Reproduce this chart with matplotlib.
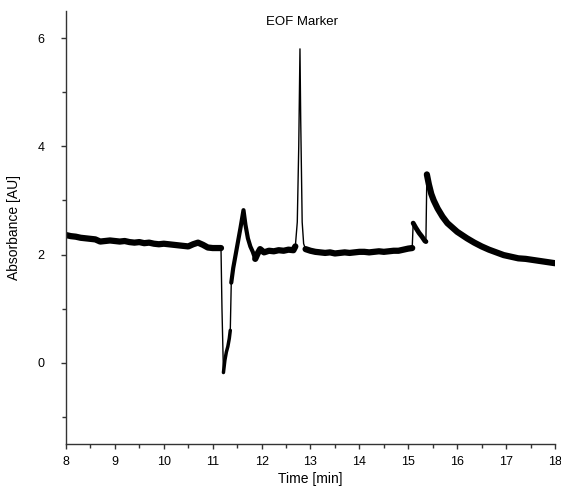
import numpy as np
import matplotlib.pyplot as plt

plt.rcParams['font.family'] = ['Liberation Sans', 'DejaVu Sans']

# trace (time in min, absorbance in AU)
time_min = [
    8.0, 8.1, 8.2, 8.3, 8.4, 8.5, 8.6, 8.7, 8.8, 8.9, 9.0, 9.1, 9.2, 9.3, 9.4,
    9.5, 9.6, 9.7, 9.8, 9.9, 10.0, 10.1, 10.2, 10.3, 10.4, 10.5, 10.6, 10.7,
    10.8, 10.9, 11.0, 11.1, 11.17,
    11.19, 11.22, 11.25, 11.28, 11.31, 11.34, 11.36, 11.38, 11.42, 11.47,
    11.52, 11.57, 11.63, 11.67, 11.72, 11.77, 11.82, 11.87, 11.92, 11.97,
    12.05, 12.15, 12.25, 12.35, 12.45, 12.55, 12.65, 12.69,
    12.73, 12.76, 12.785, 12.80, 12.83, 12.86, 12.90,
    13.0, 13.1, 13.2, 13.3, 13.4, 13.5, 13.6, 13.7, 13.8, 13.9, 14.0, 14.1,
    14.2, 14.3, 14.4, 14.5, 14.6, 14.7, 14.8, 14.9, 15.0, 15.08,
    15.10, 15.15, 15.22, 15.28, 15.34, 15.36,
    15.38, 15.42, 15.47, 15.52, 15.6, 15.7, 15.8, 15.9, 16.0, 16.1, 16.2,
    16.35, 16.5, 16.65, 16.8, 16.95, 17.1, 17.25, 17.4, 17.55, 17.7, 17.85,
    18.0,
]
absorbance = [
    2.36, 2.34, 2.33, 2.31, 2.30, 2.29, 2.28, 2.24, 2.25, 2.26, 2.25, 2.24,
    2.25, 2.23, 2.22, 2.23, 2.21, 2.22, 2.20, 2.19, 2.20, 2.19, 2.18, 2.17,
    2.16, 2.15, 2.19, 2.22, 2.18, 2.13, 2.12, 2.12, 2.12,
    1.00, -0.18, 0.05, 0.20, 0.30, 0.45, 0.60, 1.48, 1.75, 2.00,
    2.25, 2.50, 2.82, 2.55, 2.30, 2.15, 2.05, 1.92, 2.02, 2.10,
    2.04, 2.07, 2.06, 2.08, 2.07, 2.09, 2.08, 2.15,
    2.60, 4.00, 5.80, 4.50, 2.60, 2.20, 2.10,
    2.07, 2.05, 2.04, 2.03, 2.04, 2.02, 2.03, 2.04, 2.03, 2.04, 2.05, 2.05,
    2.04, 2.05, 2.06, 2.05, 2.06, 2.07, 2.07, 2.09, 2.11, 2.12,
    2.58, 2.50, 2.40, 2.33, 2.25, 2.24,
    3.48, 3.30, 3.12, 3.00, 2.85, 2.70, 2.58, 2.50, 2.42, 2.36, 2.30,
    2.22, 2.15, 2.09, 2.04, 1.99, 1.96, 1.93, 1.92, 1.90, 1.88, 1.86,
    1.84,
]

t = np.array(time_min)
a = np.array(absorbance)

fig = plt.figure(figsize=(5.61, 4.88), dpi=100)
ax = fig.add_axes([0.1176, 0.0902, 0.8717, 0.8873])

# thin trace everywhere, thicker where the signal is noisy
ax.plot(t, a, color='black', lw=1.0)


def band(lo, hi, lw):
    m = (t >= lo) & (t <= hi)
    ax.plot(t[m], a[m], color='black', lw=lw, solid_capstyle='round',
            solid_joinstyle='round')


band(8.0, 11.17, 4.5)
band(11.87, 12.69, 4.5)
band(12.90, 15.08, 4.5)
band(15.38, 18.0, 4.5)
band(11.22, 11.36, 2.5)
band(11.38, 11.87, 3)
band(15.10, 15.36, 3.5)

ax.set_xlim(8, 18)
ax.set_ylim(-1.5, 6.5)
ax.set_xticks(range(8, 19))
ax.set_xticks(np.arange(8.5, 18, 1), minor=True)
ax.set_yticks([0, 2, 4, 6])
ax.set_yticks([-1, 1, 3, 5], minor=True)

for s in ['top', 'right']:
    ax.spines[s].set_visible(False)
for s in ['left', 'bottom']:
    ax.spines[s].set_color('#333333')
    ax.spines[s].set_linewidth(1.0)

ax.tick_params(which='both', direction='out', color='#333333', labelsize=9)
ax.tick_params(which='major', length=3.5, width=1.0)
ax.tick_params(which='minor', length=3, width=1.0)
ax.tick_params(axis='y', pad=12)
ax.tick_params(axis='x', pad=5)

ax.set_xlabel('Time [min]', fontsize=10, labelpad=3)
ax.set_ylabel('Absorbance [AU]', fontsize=10, labelpad=12)
ax.text(0.483, 0.975, 'EOF Marker', transform=ax.transAxes, ha='center',
        va='center', fontsize=9.5)

plt.savefig('out.png', dpi=100)
